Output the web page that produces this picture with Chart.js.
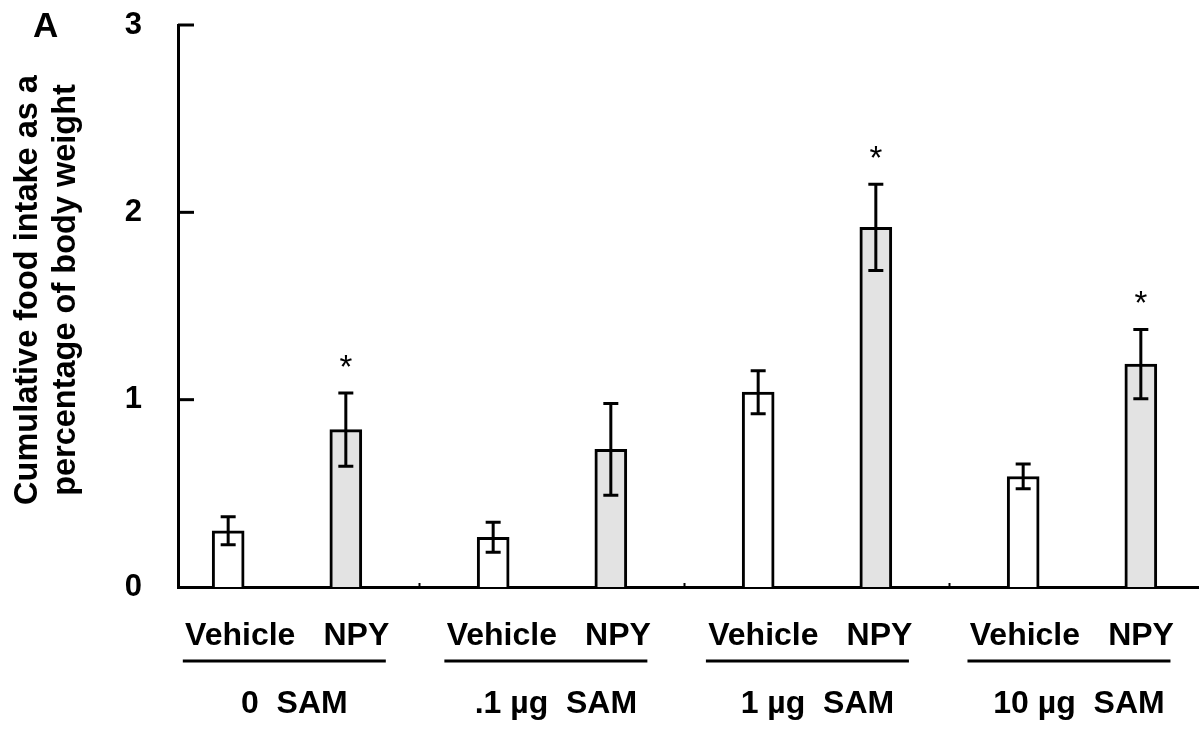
<!DOCTYPE html>
<html>
<head>
<meta charset="utf-8">
<script src="https://cdn.jsdelivr.net/npm/chart.js@4/dist/chart.umd.min.js"></script>
<style>
  html, body { margin: 0; padding: 0; background: #fff; }
  canvas { display: block; }
</style>
</head>
<body>
<canvas id="chart" width="1199" height="729"></canvas>
<script>
// SAM dose groups and treatments
const categories = ['0  SAM', '.1 µg  SAM', '1 µg  SAM', '10 µg  SAM'];
const treatments = ['Vehicle', 'NPY'];

// Cumulative food intake (% of body weight), mean and SEM per group
const vehicleMean = [0.30, 0.265, 1.04, 0.59];
const vehicleSem  = [0.075, 0.08, 0.115, 0.066];
const npyMean     = [0.84, 0.735, 1.92, 1.19];
const npySem      = [0.195, 0.245, 0.23, 0.185];
const npySignificant = [true, false, true, true];

const yTicks = [0, 1, 2, 3];
const yTitle = ['Cumulative food intake as a', 'percentage of body weight'];
const panelLabel = 'A';

const FONT = '"Liberation Sans", Arial, Helvetica, sans-serif';
const BAR_OFFSET = 0.222; // half the distance between the two bars of a group

const toPoints = (arr, sign) => arr.map((v, i) => ({ x: i + 1 + sign * BAR_OFFSET, y: v }));

const errorBars = {
  id: 'errorBars',
  afterDatasetsDraw(chart) {
    const ctx = chart.ctx;
    const xs = chart.scales.x, ys = chart.scales.y;
    const sets = [
      { mean: vehicleMean, sem: vehicleSem, sign: -1, star: null },
      { mean: npyMean, sem: npySem, sign: 1, star: npySignificant }
    ];
    ctx.save();
    ctx.strokeStyle = '#000';
    ctx.fillStyle = '#000';
    ctx.lineWidth = 3;
    ctx.lineCap = 'butt';
    sets.forEach(s => {
      s.mean.forEach((m, i) => {
        const px = xs.getPixelForValue(i + 1 + s.sign * BAR_OFFSET);
        const hi = ys.getPixelForValue(m + s.sem[i]);
        const lo = ys.getPixelForValue(m - s.sem[i]);
        const cap = 7.5;
        ctx.beginPath();
        ctx.moveTo(px, hi); ctx.lineTo(px, lo);
        ctx.moveTo(px - cap, hi); ctx.lineTo(px + cap, hi);
        ctx.moveTo(px - cap, lo); ctx.lineTo(px + cap, lo);
        ctx.stroke();
        if (s.star && s.star[i]) {
          ctx.font = '33px ' + FONT;
          ctx.textAlign = 'center';
          ctx.textBaseline = 'alphabetic';
          ctx.fillText('*', px, hi - 15);
        }
      });
    });
    ctx.restore();
  }
};

const annotations = {
  id: 'annotations',
  afterDraw(chart) {
    const ctx = chart.ctx;
    const { left, right, bottom, width } = chart.chartArea;
    const xs = chart.scales.x, ys = chart.scales.y;
    ctx.save();
    ctx.strokeStyle = '#000';
    ctx.fillStyle = '#000';

    // inward tick marks on the value axis
    ctx.lineWidth = 3;
    yTicks.forEach(t => {
      if (t === 0) return;
      const py = ys.getPixelForValue(t);
      ctx.beginPath();
      ctx.moveTo(left, py);
      ctx.lineTo(left + 16, py);
      ctx.stroke();
    });

    // small marks between dose groups on the baseline
    ctx.lineWidth = 2;
    for (let g = 1; g < categories.length; g++) {
      const px = xs.getPixelForValue(g + 0.5);
      ctx.beginPath();
      ctx.moveTo(px, bottom);
      ctx.lineTo(px, bottom - 4);
      ctx.stroke();
    }

    // category labels under the axis
    const labelMin = 0.54, labelMax = 4.4436;
    const lx = v => right - (labelMax - v) * width / (labelMax - labelMin);
    ctx.font = 'bold 32px ' + FONT;
    ctx.textAlign = 'center';
    ctx.textBaseline = 'alphabetic';
    categories.forEach((c, i) => {
      const g = i + 1;
      ctx.fillText(treatments[0], lx(g - BAR_OFFSET), 645);
      ctx.fillText(treatments[1], lx(g + BAR_OFFSET), 645);
      const cx = lx(g) - 14;
      ctx.lineWidth = 3;
      ctx.beginPath();
      ctx.moveTo(cx - 101.5, 661);
      ctx.lineTo(cx + 101.5, 661);
      ctx.stroke();
      ctx.fillText(c, lx(g) - 4, 713);
    });

    // value axis title, two rotated lines
    ctx.font = 'bold 32.5px ' + FONT;
    const titleY = 290;
    [37, 75].forEach((bx, k) => {
      ctx.save();
      ctx.translate(bx, titleY);
      ctx.rotate(-Math.PI / 2);
      ctx.fillText(yTitle[k], 0, 0);
      ctx.restore();
    });

    // panel letter
    ctx.font = 'bold 35px ' + FONT;
    ctx.textAlign = 'left';
    ctx.fillText(panelLabel, 33, 37);
    ctx.restore();
  }
};

new Chart(document.getElementById('chart'), {
  type: 'bar',
  data: {
    datasets: [
      {
        label: treatments[0],
        data: toPoints(vehicleMean, -1),
        backgroundColor: '#ffffff',
        borderColor: '#000000',
        borderWidth: 3,
        barThickness: 32
      },
      {
        label: treatments[1],
        data: toPoints(npyMean, 1),
        backgroundColor: '#e3e3e3',
        borderColor: '#000000',
        borderWidth: 3,
        barThickness: 32
      }
    ]
  },
  options: {
    responsive: false,
    animation: false,
    grouped: false,
    layout: { padding: { top: 25, right: 0, left: 0, bottom: 0 } },
    plugins: {
      legend: { display: false },
      tooltip: { enabled: false }
    },
    scales: {
      x: {
        type: 'linear',
        offset: false,
        min: 0.5887,
        max: 4.4415,
        grid: { display: false, drawTicks: false },
        border: { display: true, color: '#000', width: 3 },
        ticks: { display: false },
        afterFit(scale) { scale.height = 142; }
      },
      y: {
        min: 0,
        max: 3,
        grid: { display: false, drawTicks: true, tickLength: 36 },
        border: { display: true, color: '#000', width: 3 },
        ticks: {
          stepSize: 1,
          padding: 0,
          color: '#000',
          font: { family: FONT, size: 31, weight: 'bold' }
        },
        afterFit(scale) { scale.width = 178; }
      }
    }
  },
  plugins: [errorBars, annotations]
});
</script>
</body>
</html>
